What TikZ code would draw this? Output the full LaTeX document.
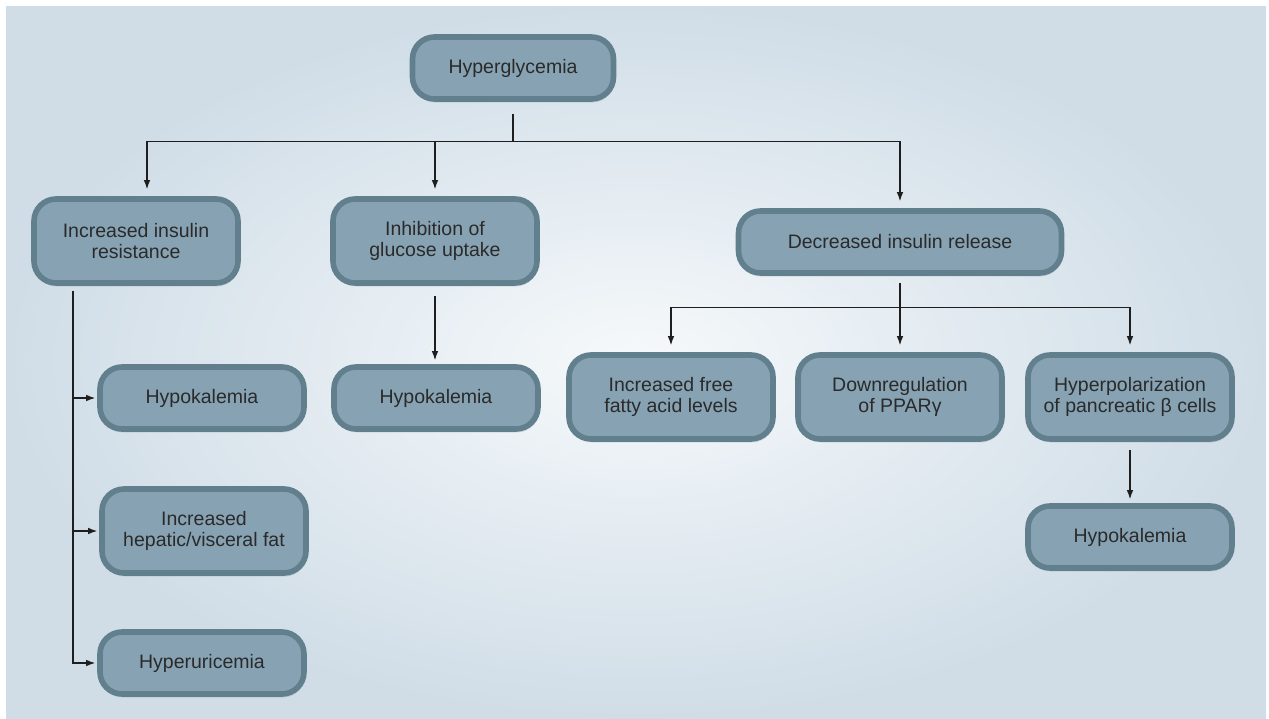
\documentclass[tikz,border=0pt]{standalone}
\usepackage{fontspec}
\setmainfont{Liberation Sans}
\usepackage{tikz}
\usetikzlibrary{arrows.meta,positioning,calc,shadows}
\definecolor{BgOuter}{HTML}{D0DDE7}
\definecolor{BgInner}{HTML}{F6F9FB}
\definecolor{BoxFill}{HTML}{87A3B3}
\definecolor{BoxEdge}{HTML}{627F8D}
\definecolor{TextGray}{HTML}{2A2A2A}
\definecolor{LineDark}{HTML}{1E1E1E}

\begin{document}
\begin{tikzpicture}[x=0.02cm,y=-0.02cm,
  box/.style={draw=BoxEdge,line width=3.2pt,rounded corners=0.44cm,fill=BoxFill,
    minimum width=4.08cm,minimum height=1.24cm,align=center,text=TextGray,
    font=\fontsize{11.1}{12.3}\selectfont,
    drop shadow={shadow xshift=0.6pt,shadow yshift=-2pt,opacity=0.18,fill=BoxEdge}},
  tallbox/.style={box,minimum height=1.68cm},
  link/.style={line width=0.65pt,color=LineDark},
  arr/.style={link,-{Latex[length=1.8mm,width=1.3mm]},shorten >=1.4mm}
]
\useasboundingbox (0,0) rectangle (1269,718);
% background panel
\fill[inner color=BgInner,outer color=BgOuter] (6,6) rectangle (1266,718);

% top level
\node[box,minimum width=4.02cm] (hyper) at (513,68) {Hyperglycemia};
\node[tallbox] (resist) at (136,241) {Increased insulin\\resistance};
\node[tallbox] (inhib) at (435,241) {Inhibition of\\glucose uptake};
\node[box,minimum width=6.46cm] (release) at (900,242) {Decreased insulin release};

% left branch
\node[box] (hypoA) at (202,398) {Hypokalemia};
\node[tallbox] (fat) at (204,531) {Increased\\hepatic/visceral fat};
\node[box] (uric) at (202,663) {Hyperuricemia};

% middle branch
\node[box] (hypoB) at (436,398) {Hypokalemia};

% right branch
\node[tallbox] (ffa) at (671,397) {Increased free\\fatty acid levels};
\node[tallbox] (ppar) at (900,397) {Downregulation\\of PPARγ};
\node[tallbox] (polar) at (1130,397) {Hyperpolarization\\of pancreatic β cells};
\node[box] (hypoC) at (1130,537) {Hypokalemia};

% connectors
\coordinate (split) at ([yshift=-0.8cm]hyper.south);
\draw[link] ([yshift=-2.4mm]hyper.south) -- (split);
\draw[arr] (split) -| ([xshift=2.2mm]resist.north);
\draw[arr] (split) -| (inhib.north);
\draw[arr] (split) -| (release.north);

\coordinate (spine) at ([xshift=-1.26cm,yshift=-1mm]resist.south);
\draw[arr,shorten >=0.4mm] (spine) |- (hypoA.west);
\draw[arr,shorten >=0.4mm] (spine) |- (fat.west);
\draw[arr,shorten >=0.4mm] (spine) |- (uric.west);

\draw[arr,shorten <=2mm,shorten >=0.8mm] (inhib.south) -- (inhib.south |- hypoB.north);

\coordinate (split2) at ([yshift=-0.64cm]release.south);
\draw[link] ([yshift=-1.4mm]release.south) -- (split2);
\draw[arr] (split2) -| (ffa.north);
\draw[arr] (split2) -| (ppar.north);
\draw[arr] (split2) -| (polar.north);

\draw[arr,shorten <=1.6mm,shorten >=0.8mm] (polar.south) -- (hypoC.north);
\end{tikzpicture}
\end{document}
